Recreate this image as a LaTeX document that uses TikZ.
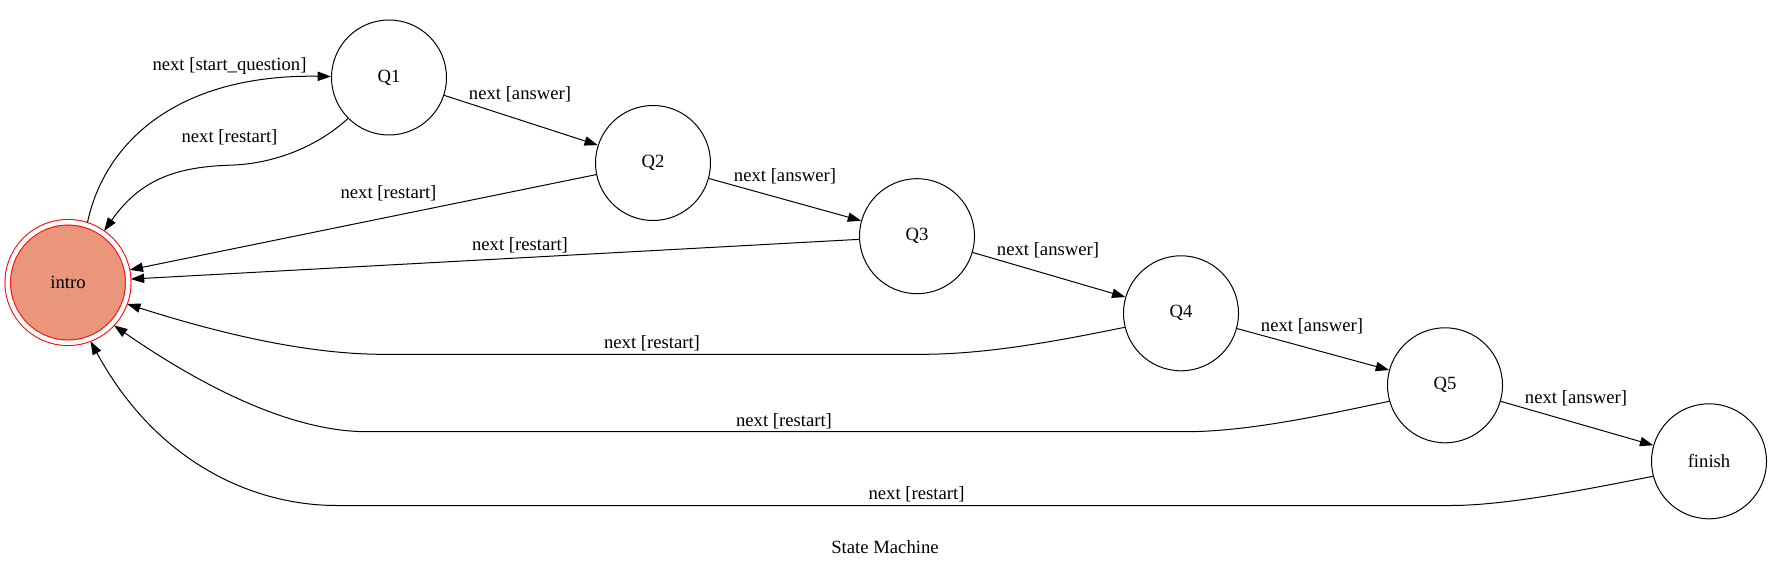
\documentclass[tikz,border=0pt]{standalone}
\usepackage{fontspec}
\setmainfont{Liberation Serif}
\usetikzlibrary{arrows.meta}
\definecolor{introfill}{RGB}{233,150,122}
\tikzset{
  state/.style={circle, draw, line width=0.75pt, minimum size=86.25pt, inner sep=0pt, font=\fontsize{14}{16}\selectfont},
  start state/.style={state, draw=red, fill=introfill, double=white, double distance=3.375pt, minimum size=90.4pt, outer sep=2pt},
  edge/.style={-{Triangle[length=10pt,width=7pt]}, line width=0.75pt},
  lbl/.style={inner sep=0pt, font=\fontsize{14}{16}\selectfont},
}
\begin{document}
\begin{tikzpicture}[x=0.75pt, y=-0.75pt]
\useasboundingbox (0,0) rectangle (1772,570);
\node[start state] (intro) at (68,282.5) {intro};
\node[state] (Q1) at (389,77.5) {Q1};
\node[state] (Q2) at (653,163) {Q2};
\node[state] (Q3) at (917,236.2) {Q3};
\node[state] (Q4) at (1181,313.3) {Q4};
\node[state] (Q5) at (1445,385.3) {Q5};
\node[state] (finish) at (1709,461.3) {finish};
% start
\draw[edge] (intro.72) .. controls (105,140) and (180,74) .. (Q1.179);
\node[lbl] (lstart) at (229.5,66) {next [start\_question]};
% answers
\draw[edge] (Q1) -- (Q2);
\node[lbl] (la1) at (520,94.5) {next [answer]};
\draw[edge] (Q2) -- (Q3);
\node[lbl] (la2) at (785,176.5) {next [answer]};
\draw[edge] (Q3) -- (Q4);
\node[lbl] (la3) at (1048,250.2) {next [answer]};
\draw[edge] (Q4) -- (Q5);
\node[lbl] (la4) at (1312,326) {next [answer]};
\draw[edge] (Q5) -- (finish);
\node[lbl] (la5) at (1576,398) {next [answer]};
% restarts
\draw[edge] (Q1.225) .. controls (318,146) and (275,164) .. (229.6,165.2) .. controls (175,167) and (140,180) .. (intro.55);
\node[lbl] (lr1) at (229.5,137.5) {next [restart]};
\draw[edge] (Q2) -- (intro);
\node[lbl] (lr2) at (388.5,193.2) {next [restart]};
\draw[edge] (Q3) -- (intro);
\node[lbl] (lr3) at (520,245) {next [restart]};
\draw[edge] (Q4.194) .. controls (1064.8,339.4) and (990,354.3) .. (922,354.3) -- (383,354.3) .. controls (320,354.3) and (240,340) .. (intro.-20);
\node[lbl] (lr4) at (652,343.5) {next [restart]};
\draw[edge] (Q5.196) .. controls (1330,413.6) and (1250,431.7) .. (1186,431.7) -- (367,431.7) .. controls (290,431.7) and (200,385) .. (intro.-43);
\node[lbl] (lr5) at (784,421.5) {next [restart]};
\draw[edge] (finish.195) .. controls (1600,486.5) and (1510,505.5) .. (1451,505.5) -- (337,505.5) .. controls (250,505.5) and (155,460) .. (intro.-69);
\node[lbl] (lr6) at (916.5,494) {next [restart]};
\node[lbl] (title) at (885,547) {State Machine};
\end{tikzpicture}
\end{document}
